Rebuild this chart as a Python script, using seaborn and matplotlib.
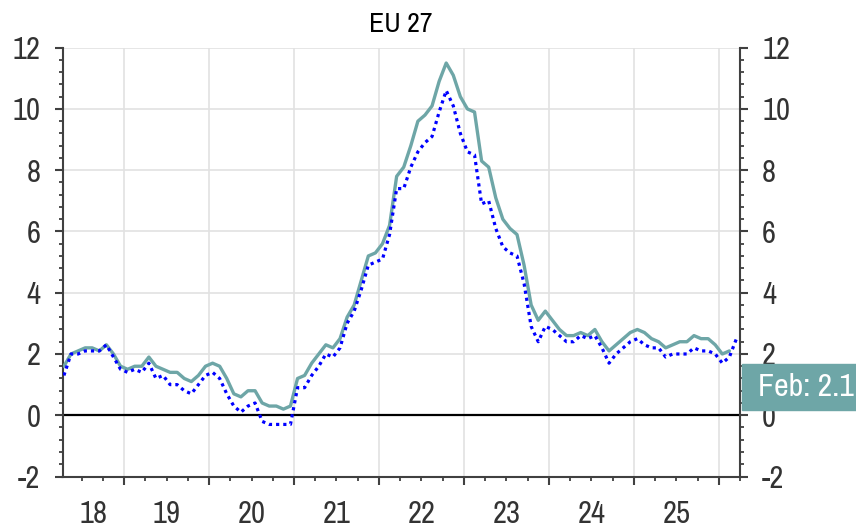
import pandas as pd
import matplotlib
matplotlib.use("Agg")
import matplotlib.pyplot as plt
import seaborn as sns
from matplotlib import font_manager
from matplotlib.ticker import MultipleLocator
from matplotlib.patches import Rectangle

# Annual inflation rates, monthly, first month = April 2018
start_month = "2018-04"

# EU 27 (solid teal), Apr 2018 - Feb 2026
eu27 = [
    1.6, 2.0, 2.1, 2.2, 2.2, 2.1, 2.3, 2.0, 1.6,
    1.5, 1.6, 1.6, 1.9, 1.6, 1.5, 1.4, 1.4, 1.2, 1.1, 1.3, 1.6,
    1.7, 1.6, 1.2, 0.7, 0.6, 0.8, 0.8, 0.4, 0.3, 0.3, 0.2, 0.3,
    1.2, 1.3, 1.7, 2.0, 2.3, 2.2, 2.5, 3.2, 3.6, 4.4, 5.2, 5.3,
    5.6, 6.2, 7.8, 8.1, 8.8, 9.6, 9.8, 10.1, 10.9, 11.5, 11.1, 10.4,
    10.0, 9.9, 8.3, 8.1, 7.1, 6.4, 6.1, 5.9, 4.9, 3.6, 3.1, 3.4,
    3.1, 2.8, 2.6, 2.6, 2.7, 2.6, 2.8, 2.4, 2.1, 2.3, 2.5, 2.7,
    2.8, 2.7, 2.5, 2.4, 2.2, 2.3, 2.4, 2.4, 2.6, 2.5, 2.5, 2.3,
    2.0, 2.1,
]

# Euro area (dotted blue), Apr 2018 - Mar 2026
euro_area = [
    1.3, 2.0, 2.0, 2.1, 2.1, 2.1, 2.3, 1.9, 1.5,
    1.4, 1.5, 1.4, 1.7, 1.2, 1.3, 1.0, 1.0, 0.8, 0.7, 1.0, 1.3,
    1.4, 1.2, 0.7, 0.3, 0.1, 0.3, 0.4, -0.2, -0.3, -0.3, -0.3, -0.3,
    0.9, 0.9, 1.3, 1.6, 2.0, 1.9, 2.2, 3.0, 3.4, 4.1, 4.9, 5.0,
    5.1, 5.9, 7.4, 7.4, 8.1, 8.6, 8.9, 9.1, 9.9, 10.6, 10.1, 9.2,
    8.6, 8.5, 6.9, 7.0, 6.1, 5.5, 5.3, 5.2, 4.3, 2.9, 2.4, 2.9,
    2.8, 2.6, 2.4, 2.4, 2.6, 2.5, 2.6, 2.2, 1.7, 2.0, 2.2, 2.4,
    2.5, 2.3, 2.2, 2.2, 1.9, 2.0, 2.0, 2.0, 2.2, 2.1, 2.1, 2.0,
    1.7, 1.9, 2.5,
]

year_labels = ["18", "19", "20", "21", "22", "23", "24", "25"]
label_years = [2018, 2019, 2020, 2021, 2022, 2023, 2024, 2025]

title = "EU 27"
teal = "#6ea6a7"
blue = "#0000ff"
spine_col = "#404040"


def pick_font():
    # narrow sans if there is one, otherwise plain Liberation Sans a bit smaller
    installed = {f.name for f in font_manager.fontManager.ttflist}
    for name in ["Liberation Sans Narrow", "Arial Narrow", "Archivo Narrow"]:
        if name in installed:
            return name, 1.0
    return "Liberation Sans", 0.82


def month_frame(values):
    # monthly points placed in the middle of each month on a fractional-year axis
    months = pd.period_range(start_month, periods=len(values), freq="M")
    t = months.year + (months.month - 0.5) / 12
    return pd.DataFrame({"t": t, "value": values}), months


def make_chart():
    sns.set_theme(style="white")
    font, scale = pick_font()
    plt.rcParams["font.family"] = [font, "DejaVu Sans"]
    plt.rcParams["axes.unicode_minus"] = False
    fs = 22 * scale

    df_eu, months_eu = month_frame(eu27)
    df_ea, _ = month_frame(euro_area)

    x_min, x_max = 2018.275, 2026.25

    fig = plt.figure(figsize=(8.56, 5.29), dpi=100)
    ax = fig.add_axes([62.5 / 856, 1 - 476.5 / 529, (740 - 62.5) / 856, (476.5 - 47.7) / 529])

    # gridlines and the zero line
    ax.set_axisbelow(True)
    ax.grid(True, which="major", color="#e2e2e2", lw=1.2)
    ax.axhline(0, color="black", lw=1.6, zorder=2)

    sns.lineplot(data=df_eu, x="t", y="value", ax=ax, color=teal, lw=2.4, zorder=3)
    sns.lineplot(data=df_ea, x="t", y="value", ax=ax, color=blue, lw=2.3,
                 linestyle=(0, (1, 1.25)), zorder=4)

    ax.set_xlim(x_min, x_max)
    ax.set_ylim(-2, 12)
    ax.set_xlabel("")
    ax.set_ylabel("")

    # y axis: labels on both sides
    ax.yaxis.set_major_locator(MultipleLocator(2))
    ax.yaxis.set_minor_locator(MultipleLocator(0.4))
    ax.tick_params(axis="y", which="both", left=True, right=True,
                   labelleft=True, labelright=True, direction="out",
                   colors=spine_col, labelcolor="#333333", labelsize=fs, pad=10)
    ax.tick_params(axis="y", which="major", length=6, width=1.5)
    ax.tick_params(axis="y", which="minor", length=3, width=1.3)

    # x axis: ticks at year boundaries + quarterly, labels centred in the years
    ax.xaxis.set_major_locator(MultipleLocator(1))
    ax.xaxis.set_minor_locator(MultipleLocator(0.25))
    ax.tick_params(axis="x", which="both", bottom=True, labelbottom=False,
                   direction="out", colors=spine_col)
    ax.tick_params(axis="x", which="major", length=6, width=1.5)
    ax.tick_params(axis="x", which="minor", length=3, width=1.3)

    label_pos = [(max(y, x_min) + min(y + 1, x_max)) / 2 for y in label_years]
    sec = ax.secondary_xaxis("bottom")
    sec.set_xticks(label_pos, labels=year_labels)
    sec.tick_params(length=0, pad=17, labelsize=fs, labelcolor="#333333")
    sec.spines["bottom"].set_visible(False)

    for side in ["left", "right", "bottom"]:
        ax.spines[side].set_color(spine_col)
        ax.spines[side].set_linewidth(1.5)
    ax.spines["top"].set_visible(False)

    ax.set_title(title, fontsize=20 * scale, pad=11, color="black")

    # latest value tag on the right
    last_label = f"{months_eu[-1].strftime('%b')}: {eu27[-1]}"
    fig.add_artist(Rectangle((741.7 / 856, 1 - 410 / 529), (856 - 741.7) / 856, 46 / 529,
                             transform=fig.transFigure, color=teal, zorder=5))
    fig.text(758 / 856, 1 - 387 / 529, last_label, color="white", fontsize=23 * scale,
             ha="left", va="center", zorder=6)

    fig.savefig("out.png", dpi=100)


if __name__ == "__main__":
    make_chart()
